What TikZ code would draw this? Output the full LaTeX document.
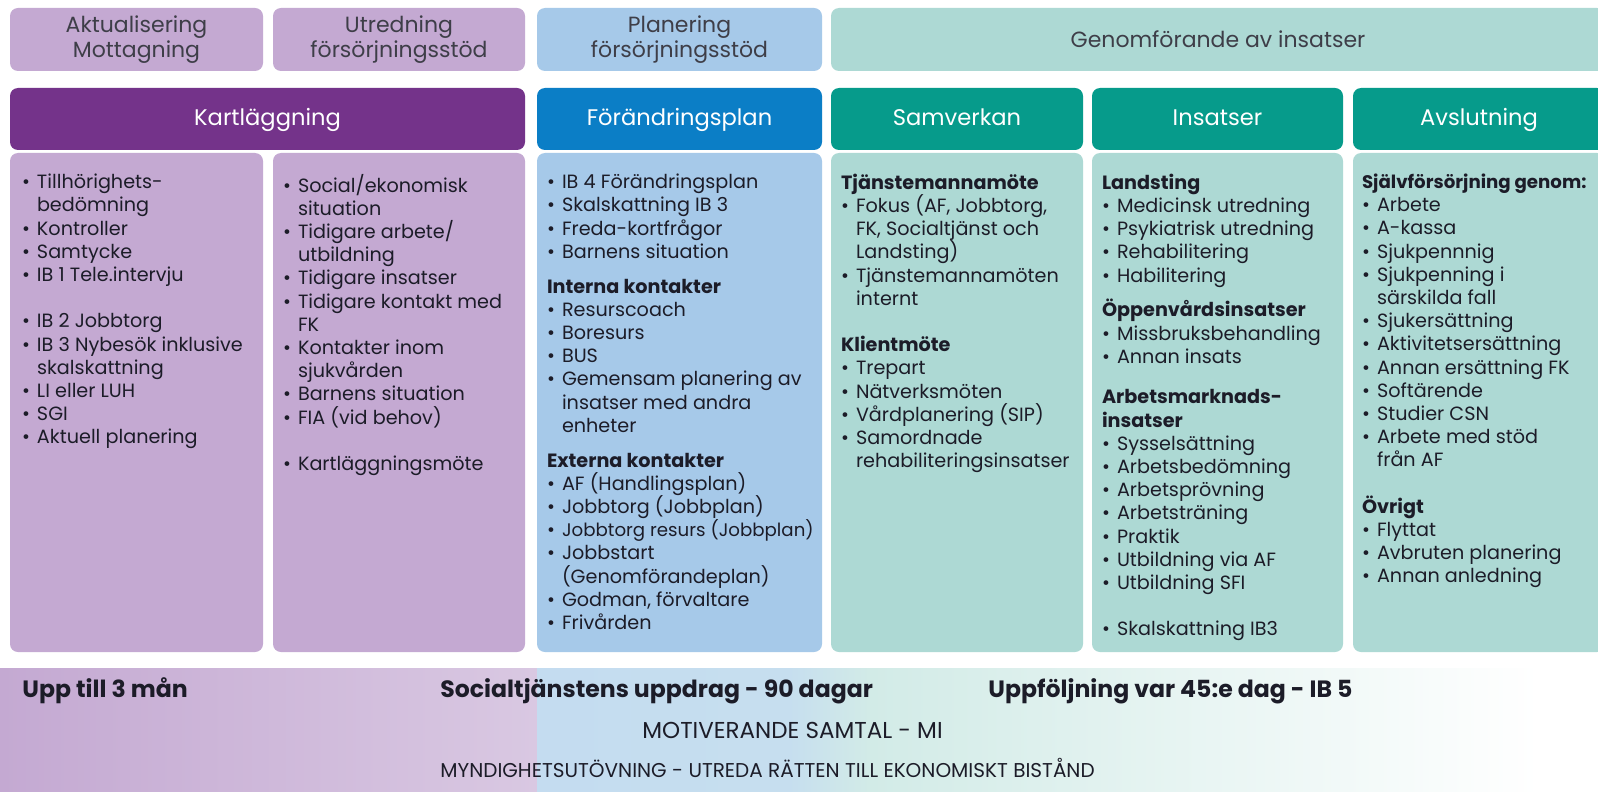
\documentclass[tikz,border=0pt]{standalone}
\usepackage{fontspec}
\setmainfont{Poppins}
\usepackage{tikz}
\usetikzlibrary{positioning}

\definecolor{lilac}{HTML}{C4A9D2}
\definecolor{lilacpale}{HTML}{D9C8E2}
\definecolor{skyblue}{HTML}{A6C9E9}
\definecolor{skypale}{HTML}{C4DCF0}
\definecolor{mint}{HTML}{ADD9D4}
\definecolor{mintpale}{HTML}{D2EBE7}
\definecolor{plum}{HTML}{74338A}
\definecolor{ocean}{HTML}{0B7EC6}
\definecolor{teal}{HTML}{069B8B}
\definecolor{ink}{HTML}{1C1C28}

\newcommand{\bl}{\makebox[7.5pt][l]{\textbullet}}
\newcommand{\cont}{\makebox[7.5pt]{}}
\newcommand{\tight}{\fontsize{9.1}{11.6}\selectfont}

\tikzset{
  phase/.style={rounded corners=4pt, inner sep=0pt, align=center, text=ink!85,
    font=\fontsize{11}{12.5}\selectfont},
  head/.style={rounded corners=4pt, inner sep=0pt, text=white,
    font=\fontsize{11.3}{12.5}\selectfont, text height=8pt, text depth=1pt},
  panel/.style={rounded corners=4pt, inner sep=0pt},
  list/.style={anchor=north west, inner sep=0pt, align=left, text=ink,
    font=\fontsize{9.6}{11.6}\selectfont, execute at begin node=\strut},
  band/.style={anchor=west, inner sep=0pt, text=ink, font=\fontsize{11.5}{12}\selectfont},
  bandbold/.style={band, font=\fontsize{11.8}{13}\bfseries}
}

\begin{document}
\begin{tikzpicture}[x=0.5pt,y=-0.5pt]
\useasboundingbox (0,0) rectangle (1598,791);
\clip (0,0) rectangle (1598,791);
\fill[white] (0,0) rectangle (1598,791);

\node[phase, fill=lilac, minimum width=126.5pt, minimum height=31.5pt] (aktual) at (136.5,39.5) {Aktualisering\\Mottagning};
\node[phase, fill=lilac, minimum width=126pt, minimum height=31.5pt] (utred) at (399,39.5) {Utredning\\försörjningsstöd};
\node[phase, fill=skyblue, minimum width=142.5pt, minimum height=31.5pt] (planer) at (679.5,39.5) {Planering\\försörjningsstöd};
\node[phase, fill=mint, minimum width=387pt, minimum height=31.5pt] (genomf) at (1218,39.5) {Genomförande av insatser};

\node[head, fill=plum, minimum width=257.5pt, minimum height=31pt] (kartl) at (267.5,119) {Kartläggning};
\node[head, fill=ocean, minimum width=142.5pt, minimum height=31pt] (forandr) at (679.5,119) {Förändringsplan};
\node[head, fill=teal, minimum width=126pt, minimum height=31pt] (samverk) at (957,119) {Samverkan};
\node[head, fill=teal, minimum width=125.5pt, minimum height=31pt] (insats) at (1217.5,119) {Insatser};
\node[head, fill=teal, minimum width=126pt, minimum height=31pt] (avslut) at (1479,119) {Avslutning};

\node[panel, fill=lilac, minimum width=126.5pt, minimum height=249.5pt] (kartlA) at (136.5,402.5) {};
\node[panel, fill=lilac, minimum width=126pt, minimum height=249.5pt] (kartlB) at (399,402.5) {};
\node[panel, fill=skyblue, minimum width=142.5pt, minimum height=249.5pt] (forandrA) at (679.5,402.5) {};
\node[panel, fill=mint, minimum width=126pt, minimum height=249.5pt] (samverkA) at (957,402.5) {};
\node[panel, fill=mint, minimum width=125.5pt, minimum height=249.5pt] (insatsA) at (1217.5,402.5) {};
\node[panel, fill=mint, minimum width=126pt, minimum height=249.5pt] (avslutA) at (1479,402.5) {};

\node[list] (kartlAtxt) at ([xshift=6pt,yshift=-10.5pt]kartlA.north west) {\bl Tillhörighets-\\
\cont bedömning\\
\bl Kontroller\\
\bl Samtycke\\
\bl IB 1 Tele.intervju\\[11.6pt]
\bl IB 2 Jobbtorg\\
\bl IB 3 Nybesök inklusive\\
\cont skalskattning\\
\bl LI eller LUH\\
\bl SGI\\
\bl Aktuell planering};

\node[list] (kartlBtxt) at ([xshift=5pt,yshift=-10.5pt]kartlB.north west) {\bl Social/ekonomisk\\
\cont situation\\
\bl Tidigare arbete/\\
\cont utbildning\\
\bl Tidigare insatser\\
\bl Tidigare kontakt med\\
\cont FK\\
\bl Kontakter inom\\
\cont sjukvården\\
\bl Barnens situation\\
\bl FIA (vid behov)\\[11.6pt]
\bl Kartläggningsmöte};

\node[list] (forandrtxt) at ([xshift=5pt,yshift=-10.5pt]forandrA.north west) {\bl IB 4 Förändringsplan\\
\bl Skalskattning IB 3\\
\bl Freda-kortfrågor\\
\bl Barnens situation\\[5.8pt]
\textbf{Interna kontakter}\\
\bl Resurscoach\\
\bl Boresurs\\
\bl BUS\\
\bl Gemensam planering av\\
\cont insatser med andra\\
\cont enheter\\[5.8pt]
\textbf{Externa kontakter}\\
\bl AF (Handlingsplan)\\
\bl Jobbtorg (Jobbplan)\\
\bl {\tight Jobbtorg resurs (Jobbplan)}\\
\bl Jobbstart\\
\cont (Genomförandeplan)\\
\bl Godman, förvaltare\\
\bl Frivården};

\node[list] (samverktxt) at ([xshift=5pt,yshift=-10.5pt]samverkA.north west) {\textbf{Tjänstemannamöte}\\
\bl Fokus (AF, Jobbtorg,\\
\cont FK, Socialtjänst och\\
\cont Landsting)\\
\bl Tjänstemannamöten\\
\cont internt\\[11.6pt]
\textbf{Klientmöte}\\
\bl Trepart\\
\bl Nätverksmöten\\
\bl Vårdplanering (SIP)\\
\bl Samordnade\\
\cont rehabiliteringsinsatser};

\node[list] (insatstxt) at ([xshift=5pt,yshift=-10.5pt]insatsA.north west) {\textbf{Landsting}\\
\bl Medicinsk utredning\\
\bl Psykiatrisk utredning\\
\bl Rehabilitering\\
\bl Habilitering\\[5.8pt]
\textbf{Öppenvårdsinsatser}\\
\bl Missbruksbehandling\\
\bl Annan insats\\[8.7pt]
\textbf{Arbetsmarknads-}\\
\textbf{insatser}\\
\bl Sysselsättning\\
\bl Arbetsbedömning\\
\bl Arbetsprövning\\
\bl Arbetsträning\\
\bl Praktik\\
\bl Utbildning via AF\\
\bl Utbildning SFI\\[11.6pt]
\bl Skalskattning IB3};

\node[list] (avsluttxt) at ([xshift=4.5pt,yshift=-10.5pt]avslutA.north west) {{\tight\bfseries Självförsörjning genom:}\\
\bl Arbete\\
\bl A-kassa\\
\bl Sjukpennnig\\
\bl Sjukpenning i\\
\cont särskilda fall\\
\bl Sjukersättning\\
\bl Aktivitetsersättning\\
\bl Annan ersättning FK\\
\bl Softärende\\
\bl Studier CSN\\
\bl Arbete med stöd\\
\cont från AF\\[11.6pt]
\textbf{Övrigt}\\
\bl Flyttat\\
\bl Avbruten planering\\
\bl Annan anledning};

\shade[left color=lilac, right color=lilacpale] (0,668) rectangle (537,791);
\shade[left color=skypale, right color=skypale!85!mintpale] (537,668) rectangle (790,791);
\shade[left color=skypale!85!mintpale, right color=mintpale] (790,668) rectangle (870,791);
\shade[left color=mintpale, right color=white] (870,668) rectangle (1540,791);

\node[bandbold] (upptill) at (22,691) {Upp till 3 mån};
\node[bandbold] (uppdrag) at (440,691) {Socialtjänstens uppdrag - 90 dagar};
\node[bandbold] (uppfolj) at (988,691) {Uppföljning var 45:e dag - IB 5};
\node[band] (motiv) at (642,730) {MOTIVERANDE SAMTAL - MI};
\node[band, font=\fontsize{10}{11}\selectfont] (myndig) at (440,768) {MYNDIGHETSUTÖVNING - UTREDA RÄTTEN TILL EKONOMISKT BISTÅND};
\end{tikzpicture}
\end{document}
